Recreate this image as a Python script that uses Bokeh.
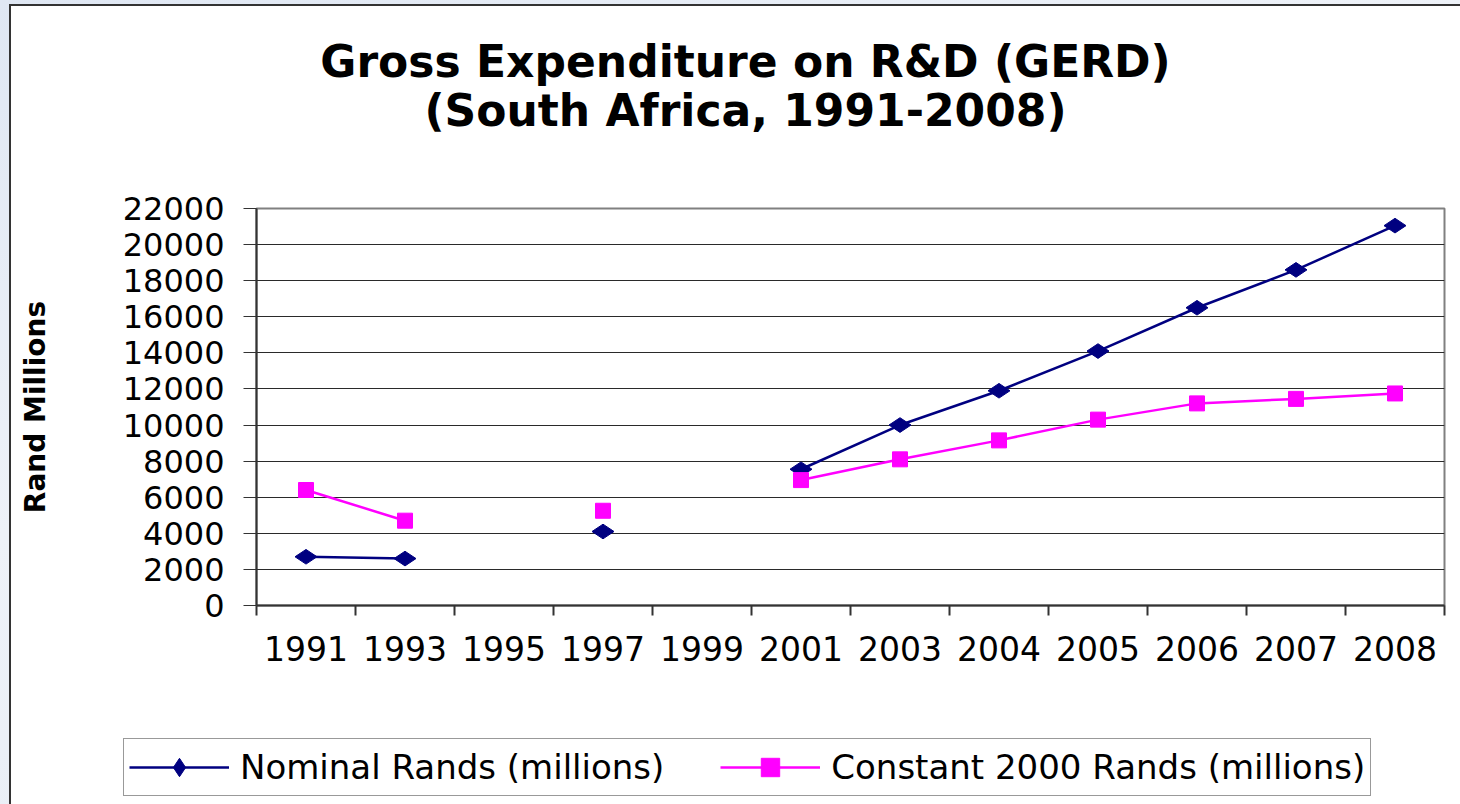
from math import pi
import numpy as np
from bokeh.plotting import figure
from bokeh.layouts import column
from bokeh.models import (Range1d, FactorRange, LinearAxis, FixedTicker, Grid, Legend,
                          LegendItem, Label, ColumnDataSource)
from bokeh.embed import file_html
from bokeh.resources import INLINE

# GERD, South Africa (Rand millions); blank years have no survey
years = ["1991", "1993", "1995", "1997", "1999", "2001", "2003", "2004", "2005", "2006", "2007", "2008"]
nominal = [2700, 2600, None, 4100, None, 7550, 10000, 11900, 14100, 16500, 18600, 21050]
constant_2000 = [6400, 4700, None, 5250, None, 6950, 8100, 9150, 10300, 11200, 11450, 11750]
y_ticks = [0, 2000, 4000, 6000, 8000, 10000, 12000, 14000, 16000, 18000, 20000, 22000]

title_lines = ["Gross Expenditure on R&D (GERD)", "(South Africa, 1991-2008)"]
y_label = "Rand Millions"
series_labels = ["Nominal Rands (millions)", "Constant 2000 Rands (millions)"]

FONT = "DejaVu Sans"
NAVY = "#000080"
MAGENTA = "#FF00FF"
DARK = "#333333"

# page 1460x804: pale backdrop, dark chart frame, white chart canvas
PAGE_W, PAGE_H = 1460, 804
FRAME_X, FRAME_Y = 9, 4          # where the dark chart frame starts
EDGE = 2                         # frame line thickness
CX, CY = FRAME_X + EDGE, FRAME_Y + EDGE
W = PAGE_W - CX

# three stacked canvases: title band, plot, legend band (page y bounds)
HEAD_END, PLOT_END = 180, 700
HEAD_H = HEAD_END - CY
PLOT_H = PLOT_END - HEAD_END
FOOT_H = PAGE_H - PLOT_END

# plot area on the page
PX0, PX1, PY0, PY1 = 256, 1444, 208, 605
LEFT, RIGHT = PX0 - CX, CX + W - PX1
TOP, BOTTOM = PY0 - HEAD_END, PLOT_END - PY1


def as_float(vals):
    return np.array([np.nan if v is None else v for v in vals], dtype=float)


source = ColumnDataSource(dict(year=years, nominal=as_float(nominal), constant=as_float(constant_2000)))


def blank_canvas(height, **kw):
    f = figure(width=W, height=height, output_backend="svg", toolbar_location=None,
               x_axis_location=None, y_axis_location=None,
               min_border=0, margin=0, frame_align=False, **kw)
    f.grid.visible = False
    f.outline_line_color = None
    f.border_fill_color = "white"
    f.background_fill_color = "white"
    return f


# ---- title band
head = blank_canvas(HEAD_H, x_range=Range1d(0, 1), y_range=Range1d(0, 1))
for text, cy in zip(title_lines, [61, 110]):
    head.add_layout(Label(x=745 - CX, y=HEAD_END - cy, x_units="screen", y_units="screen",
                          text=text, text_align="center", text_baseline="middle",
                          text_font=FONT, text_font_style="bold",
                          text_font_size="44px", text_color="black"))

# ---- plot
p = figure(width=W, height=PLOT_H,
           x_range=FactorRange(factors=years, range_padding=0, factor_padding=0),
           y_range=Range1d(y_ticks[0], y_ticks[-1]),
           x_axis_location=None, y_axis_location=None,
           output_backend="svg", toolbar_location=None,
           min_border_left=LEFT, min_border_right=RIGHT,
           min_border_top=TOP, min_border_bottom=BOTTOM,
           margin=0, frame_align=False)
p.grid.visible = False
p.border_fill_color = "white"
p.background_fill_color = "white"
p.outline_line_color = "#808080"
p.outline_line_width = 2

# the category range's synthetic coordinates run 0..n; labels sit at the
# category centres and the tick marks fall on the boundaries between them
n = len(years)
centers = [i + 0.5 for i in range(n)]
bounds = list(range(n + 1))

xaxis = LinearAxis(ticker=FixedTicker(ticks=centers, minor_ticks=bounds),
                   major_label_overrides={c: yr for c, yr in zip(centers, years)},
                   major_tick_line_color=None, major_tick_out=0, major_tick_in=0,
                   minor_tick_out=10, minor_tick_in=0,
                   minor_tick_line_color=DARK, minor_tick_line_width=2,
                   axis_line_color=DARK, axis_line_width=2,
                   major_label_text_font=FONT, major_label_text_font_size="33px",
                   major_label_text_color="black", major_label_standoff=20)
p.add_layout(xaxis, "below")

yaxis = LinearAxis(ticker=FixedTicker(ticks=y_ticks),
                   axis_label=y_label, axis_label_text_font=FONT,
                   axis_label_text_font_style="bold", axis_label_text_font_size="28px",
                   axis_label_text_color="black", axis_label_standoff=68,
                   major_tick_out=13, major_tick_in=0, major_tick_line_color=DARK,
                   minor_tick_line_color=None,
                   axis_line_color=DARK, axis_line_width=2,
                   major_label_text_font=FONT, major_label_text_font_size="32px",
                   major_label_text_color="black", major_label_standoff=19)
p.add_layout(yaxis, "left")

p.add_layout(Grid(dimension=1, ticker=FixedTicker(ticks=y_ticks),
                  grid_line_color="#2a2a2a", grid_line_width=1))


def draw_series(fig):
    ln_nom = fig.line("year", "nominal", source=source, line_color=NAVY, line_width=2.5)
    sc_nom = fig.scatter("year", "nominal", source=source, marker="diamond", size=22,
                         angle=pi / 2, fill_color=NAVY, line_color=NAVY)
    ln_con = fig.line("year", "constant", source=source, line_color=MAGENTA, line_width=2.5)
    sc_con = fig.scatter("year", "constant", source=source, marker="square", size=15,
                         fill_color=MAGENTA, line_color=MAGENTA)
    return [ln_nom, sc_nom], [ln_con, sc_con]


draw_series(p)

# ---- legend band: same glyph styles, value range kept below the data so only the key shows
foot = blank_canvas(FOOT_H, x_range=FactorRange(factors=years), y_range=Range1d(-2, -1))
nom_r, con_r = draw_series(foot)
legend = Legend(items=[LegendItem(label=series_labels[0], renderers=nom_r),
                       LegendItem(label=series_labels[1], renderers=con_r)],
                orientation="horizontal", location=(123 - CX, PAGE_H - 796),
                glyph_width=100, glyph_height=46, label_standoff=11, spacing=56,
                padding=5, margin=0,
                border_line_color=DARK, border_line_width=1.5,
                background_fill_color="white", background_fill_alpha=1.0,
                label_text_font=FONT, label_text_font_size="34px", label_text_color="black")
foot.add_layout(legend)

inner = column(head, p, foot, spacing=0, width=W, height=HEAD_H + PLOT_H + FOOT_H,
               margin=(EDGE, 0, 0, EDGE), styles={"background-color": "white"})
chart = column(inner, width=W + EDGE, height=PAGE_H - FRAME_Y,
               margin=(FRAME_Y, 0, 0, FRAME_X), styles={"background-color": DARK})
page = column(chart, width=PAGE_W, height=PAGE_H, margin=0,
              styles={"background": "linear-gradient(160deg, #dfe7f3, #eef2f8 40%, #e3eaf4)"})

open("out.html", "w").write(file_html(page, INLINE))
